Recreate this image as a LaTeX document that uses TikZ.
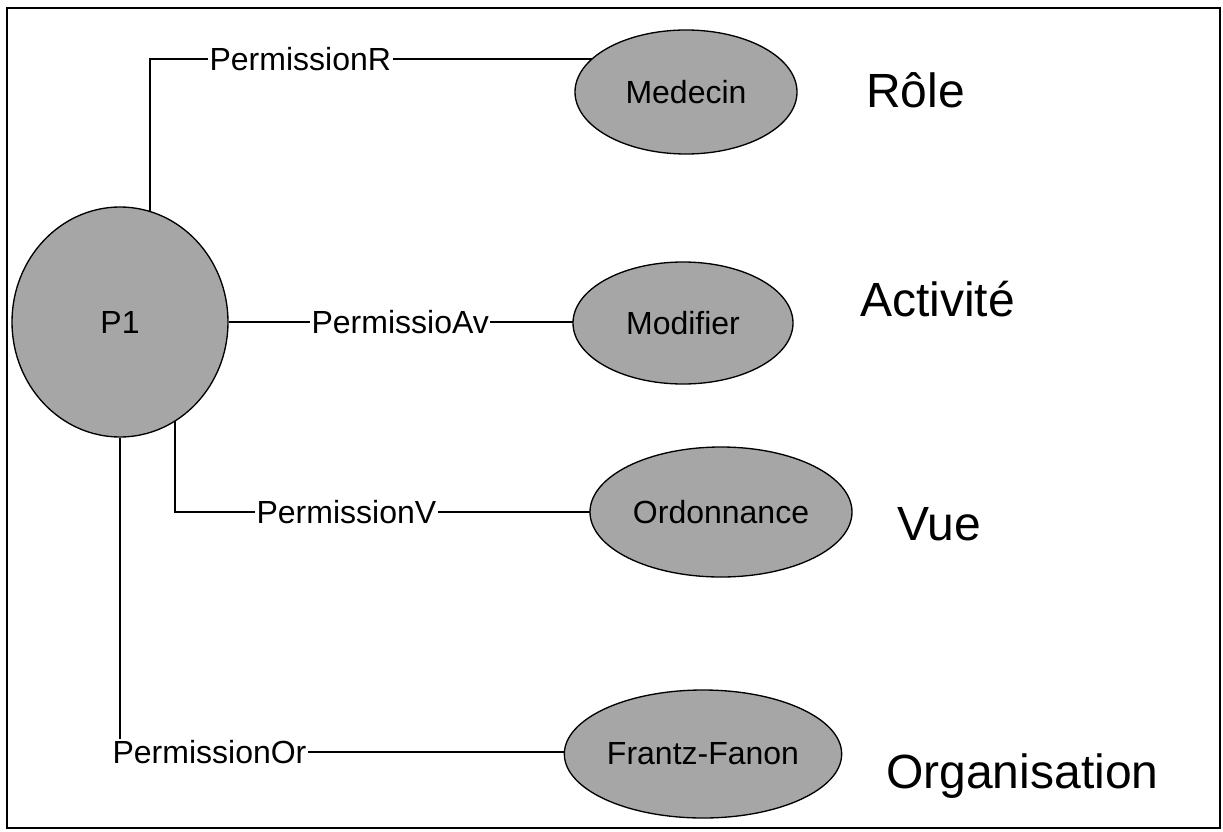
\documentclass[tikz,border=0pt]{standalone}
\usepackage{fontspec}
\setmainfont{Liberation Sans}
\usetikzlibrary{calc,shapes.geometric,backgrounds}

\tikzset{
	entity/.style={ellipse, draw, line width=1pt, fill=black!35, inner sep=0pt, font=\fontsize{24}{28}\selectfont},
	perm/.style={anchor=west, inner sep=1pt, font=\fontsize{24}{28}\selectfont},
	layer/.style={anchor=base west, inner sep=0pt, font=\fontsize{36}{42}\selectfont},
	link/.style={line width=0.9pt}
}

\begin{document}
\begin{tikzpicture}[x=0.75pt, y=-0.75pt]
			%%%%% START %%%%%
			\useasboundingbox (0, 0) rectangle (1223, 831);
			\draw[line width=1.4pt] (7, 8) rectangle (1220, 828);
			
			\node[entity, minimum width=162pt, minimum height=172.5pt] (p1) at (120, 322) {P1};
			
			\node[entity, minimum width=166.5pt, minimum height=93pt] (medecin) at (686, 92) {Medecin};
			\node[entity, minimum width=165pt, minimum height=91.5pt] (modifier) at (683, 323) {Modifier};
			\node[entity, minimum width=196.5pt, minimum height=97.5pt] (ordonnance) at (721, 512) {Ordonnance};
			\node[entity, minimum width=208pt, minimum height=96pt] (fanon) at (703, 754) {Frantz-Fanon};
			
			\node[perm] (permR) at (208, 59) {PermissionR};
			\node[perm] (permAv) at (310, 322) {PermissioAv};
			\node[perm] (permV) at (255, 512) {PermissionV};
			\node[perm] (permOr) at (111, 752) {PermissionOr};
			
			\node[layer] (role) at (866, 108) {Rôle};
			\node[layer] (activite) at (860, 316) {Activité};
			\node[layer] (vue) at (897, 540) {Vue};
			\node[layer] (orga) at (886, 788) {Organisation};
			
			% connectors behind the ellipses
			\begin{pgfonlayer}{background}
			\draw[link] ($(p1)+(30, 0)$) |- (permR.west);
			\draw[link] (permR.east) -- (permR.east -| medecin);
			
			\draw[link] (p1) -- (permAv.west);
			\draw[link] (permAv.east) -- (permAv.east -| modifier);
			
			\draw[link] ($(p1)+(55, 0)$) |- (permV.west);
			\draw[link] (permV.east) -- (permV.east -| ordonnance);
			
			\draw[link] (p1) -- (p1 |- permOr.north);
			\draw[link] (permOr.east) -- (permOr.east -| fanon);
			\end{pgfonlayer}
			
			%%%%% END %%%%%
\end{tikzpicture}
\end{document}
